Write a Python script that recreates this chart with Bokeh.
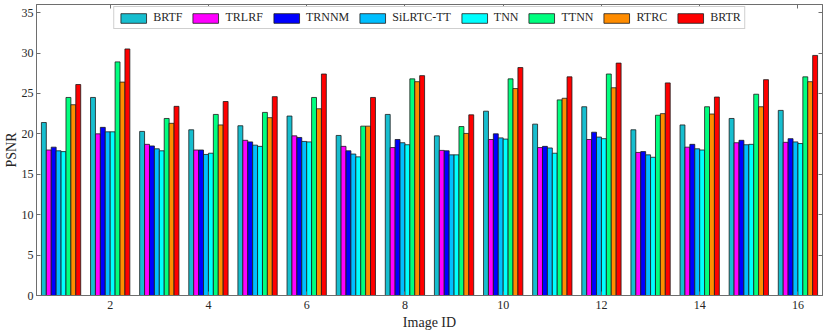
from bokeh.plotting import figure
from bokeh.models import ColumnDataSource, Range1d, LinearAxis, FixedTicker
from bokeh.transform import dodge
from bokeh.embed import file_html
from bokeh.resources import INLINE

image_ids = list(range(1, 17))
series_names = ["BRTF", "TRLRF", "TRNNM", "SiLRTC-TT", "TNN", "TTNN", "RTRC", "BRTR"]
series_colors = ["#17BECF", "#FF00FF", "#0000FF", "#00BFFF", "#00FFFF", "#00FF7F", "#FF8C00", "#FF0000"]

BRTF = [21.4, 24.5, 20.3, 20.5, 21.0, 22.2, 19.8, 22.4, 19.75, 22.8, 21.2, 23.35, 20.5, 21.1, 21.9, 22.9]
TRLRF = [18.0, 20.0, 18.7, 18.0, 19.2, 19.75, 18.45, 18.3, 17.95, 19.3, 18.3, 19.3, 17.7, 18.35, 18.9, 18.95]
TRNNM = [18.35, 20.8, 18.5, 18.0, 19.0, 19.55, 17.9, 19.3, 17.9, 20.0, 18.45, 20.2, 17.8, 18.7, 19.2, 19.4]
SiLRTC_TT = [17.9, 20.25, 18.15, 17.45, 18.6, 19.06, 17.5, 18.9, 17.4, 19.5, 18.25, 19.6, 17.4, 18.15, 18.65, 19.0]
TNN = [17.8, 20.25, 17.9, 17.6, 18.45, 19.0, 17.15, 18.65, 17.4, 19.35, 17.6, 19.4, 17.1, 18.0, 18.7, 18.8]
TTNN = [24.5, 28.9, 21.9, 22.4, 22.65, 24.5, 20.95, 26.8, 20.9, 26.8, 24.2, 27.4, 22.3, 23.35, 24.9, 27.05]
RTRC = [23.6, 26.4, 21.3, 21.1, 22.0, 23.1, 20.95, 26.45, 20.05, 25.6, 24.4, 25.7, 22.5, 22.45, 23.35, 26.45]
BRTR = [26.1, 30.5, 23.4, 24.0, 24.6, 27.4, 24.5, 27.2, 22.35, 28.2, 27.05, 28.75, 26.3, 24.55, 26.7, 29.7]

x_ticks = [2, 4, 6, 8, 10, 12, 14, 16]
y_ticks = [0, 5, 10, 15, 20, 25, 30, 35]

series_values = [BRTF, TRLRF, TRNNM, SiLRTC_TT, TNN, TTNN, RTRC, BRTR]
data = {"id": image_ids}
for name, vals in zip(series_names, series_values):
    data[name] = vals
source = ColumnDataSource(data)

FONT = "Liberation Serif"
AX = "#6e6e6e"

p = figure(width=830, height=332, output_backend="svg", toolbar_location=None,
           x_range=Range1d(0.5, 16.5), y_range=Range1d(0, 36),
           min_border_left=36, min_border_right=8, min_border_top=4, min_border_bottom=36)
p.xgrid.visible = False
p.ygrid.visible = False
p.outline_line_color = AX
p.outline_line_width = 1
p.background_fill_color = "white"

bar_w = 0.1
n = len(series_names)
for i, (name, color) in enumerate(zip(series_names, series_colors)):
    off = (i - (n - 1) / 2) * bar_w
    p.vbar(x=dodge("id", off), top=name, width=bar_w, bottom=0, source=source,
           fill_color=color, line_color="#1a1a1a", line_width=0.8, legend_label=name)

for ax in (p.xaxis[0], p.yaxis[0]):
    ax.axis_line_color = AX
    ax.major_tick_line_color = AX
    ax.major_tick_in = 4
    ax.major_tick_out = 0
    ax.minor_tick_line_color = None
    ax.major_label_text_font = FONT
    ax.major_label_text_font_size = "12px"
    ax.major_label_text_color = "#262626"
    ax.axis_label_text_font = FONT
    ax.axis_label_text_font_size = "14px"
    ax.axis_label_text_font_style = "normal"
    ax.axis_label_text_color = "#262626"

p.xaxis[0].ticker = FixedTicker(ticks=x_ticks)
p.yaxis[0].ticker = FixedTicker(ticks=y_ticks)
p.xaxis[0].axis_label = "Image ID"
p.yaxis[0].axis_label = "PSNR"
p.xaxis[0].major_label_standoff = 5
p.xaxis[0].axis_label_standoff = 3
p.yaxis[0].major_label_standoff = 3
p.yaxis[0].axis_label_standoff = 0

top_axis = LinearAxis(ticker=FixedTicker(ticks=x_ticks),
                      major_label_overrides={t: "" for t in x_ticks})
right_axis = LinearAxis(ticker=FixedTicker(ticks=y_ticks),
                        major_label_overrides={t: "" for t in y_ticks})
for ax in (top_axis, right_axis):
    ax.axis_line_color = AX
    ax.major_tick_line_color = AX
    ax.major_tick_in = 4
    ax.major_tick_out = 0
    ax.minor_tick_line_color = None
    ax.major_label_standoff = 0
    ax.major_label_text_font_size = "1px"
p.add_layout(top_axis, "above")
p.add_layout(right_axis, "right")

leg = p.legend[0]
leg.location = "top_center"
leg.orientation = "horizontal"
leg.label_text_font = FONT
leg.label_text_font_size = "12px"
leg.label_text_color = "#262626"
leg.glyph_width = 32
leg.glyph_height = 12
leg.label_standoff = 4
leg.spacing = 7
leg.padding = 3
leg.margin = 2
leg.border_line_color = "#a0a0a0"
leg.border_line_width = 1.5
leg.background_fill_alpha = 1.0

open("out.html", "w").write(file_html(p, INLINE))
